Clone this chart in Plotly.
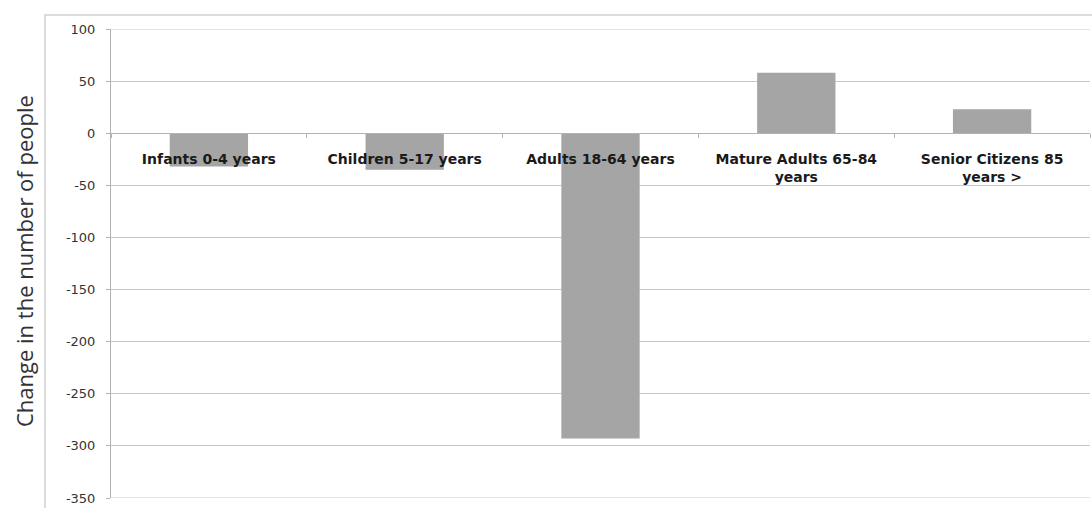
import plotly.graph_objects as go

categories = ["Infants 0-4 years", "Children 5-17 years", "Adults 18-64 years",
              "Mature Adults 65-84<br>years", "Senior Citizens 85<br>years >"]
values = [-32, -35, -293, 58, 23]
y_ticks = [100, 50, 0, -50, -100, -150, -200, -250, -300, -350]
y_title = "Change in the number of people"

ymin, ymax = -350, 100
W, H = 1092, 508
ml, mr, mt, mb = 111, 2, 29, 8
pw = W - ml - mr
ph = H - mt - mb
grid_color = "#c8c8c8"

fig = go.Figure(go.Bar(
    x=categories, y=values, marker=dict(color="#a5a5a5", line=dict(width=0)),
    width=0.4,
))

fig.update_layout(
    width=W, height=H,
    margin=dict(l=ml, r=mr, t=mt, b=mb),
    paper_bgcolor="white", plot_bgcolor="white",
    showlegend=False,
    xaxis=dict(
        anchor="free", position=(0 - ymin) / (ymax - ymin),
        showline=True, linecolor="#b3b3b3", linewidth=1,
        ticks="outside", tickson="boundaries", ticklen=4, tickcolor="#b3b3b3",
        showgrid=False,
        tickfont=dict(family="DejaVu Sans", size=14, color="#1a1a1a", weight="bold"),
        ticklabelstandoff=13,
    ),
    yaxis=dict(
        range=[ymin, ymax], tickvals=y_ticks,
        ticktext=[str(v) for v in y_ticks],
        showline=True, linecolor="#b3b3b3", linewidth=1,
        ticks="outside", ticklen=4, tickcolor="#b3b3b3",
        showgrid=True, gridcolor=grid_color, gridwidth=1,
        zeroline=False,
        tickfont=dict(family="DejaVu Sans", size=13, color="#333333"),
        ticklabelstandoff=8,
    ),
)

# gridlines at the range ends (plotly skips those)
for yv in (ymin, ymax):
    fig.add_shape(type="line", xref="paper", yref="y", x0=0, x1=1, y0=yv, y1=yv,
                  line=dict(color=grid_color, width=1), layer="below")

# outer chart border
fig.add_shape(type="rect", xref="paper", yref="paper",
              x0=(45 - ml) / pw, x1=1.05, y0=-0.1, y1=(H - mb - 15) / ph,
              line=dict(color="#cfcfcf", width=1.5), layer="below")

fig.add_annotation(text=y_title, xref="paper", yref="paper",
                   x=(24 - ml) / pw, y=(H - mb - 262) / ph,
                   xanchor="center", yanchor="middle",
                   textangle=-90, showarrow=False,
                   font=dict(family="Open Sans", size=22, color="#333333"))

fig.write_html("out.html")
